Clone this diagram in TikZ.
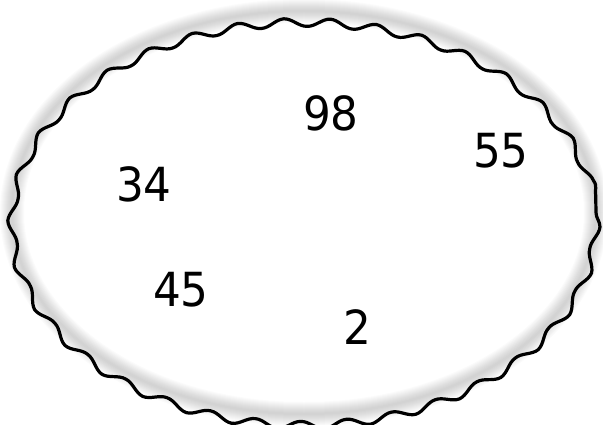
\documentclass[tikz,border=0pt]{standalone}
\usepackage{fontspec}
\setmainfont{DejaVu Sans}
\usetikzlibrary{decorations.pathmorphing}
\begin{document}
\begin{tikzpicture}[x=1pt,y=-1pt,
  num/.style={font=\fontsize{47}{47}\selectfont, inner sep=0pt, xscale=0.93},
  glow/.style={draw=black, opacity=0.014},
  wavy/.style={draw=black, line width=3.2pt, decorate,
    decoration={snake, segment length=46pt, amplitude=4pt}}]
\useasboundingbox (0,0) rectangle (603,425);
\coordinate (c) at (304,212.5);
\foreach \w in {2,4,...,24}
  \draw[glow, line width=\w pt] (c) ellipse [x radius=292, y radius=201.5];
\draw[wavy] (c) ellipse [x radius=292, y radius=201.5];
\node[num] (n98) at (331,113) {98};
\node[num] (n55) at (501,151) {55};
\node[num] (n34) at (144,184) {34};
\node[num] (n45) at (181,290) {45};
\node[num] (n2)  at (357,327) {2};
\end{tikzpicture}
\end{document}
